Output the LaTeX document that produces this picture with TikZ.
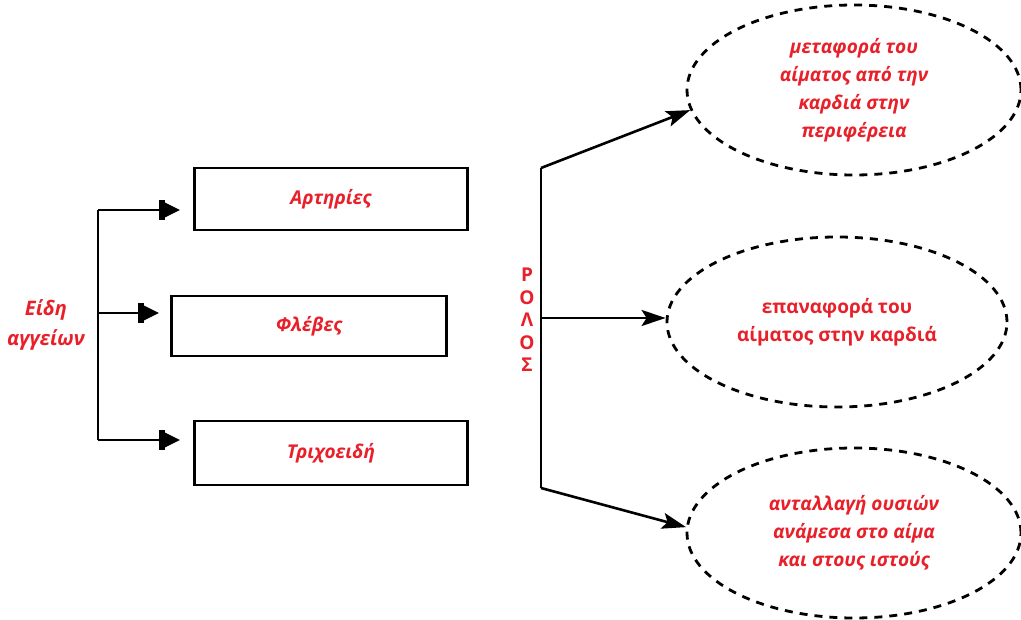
\documentclass[tikz,border=0pt]{standalone}
\usepackage{fontspec}
\setmainfont{Open Sans}
\usetikzlibrary{arrows.meta,shapes.geometric}
\definecolor{txtred}{HTML}{E8202A}
\tikzset{
  box/.style={draw=black,line width=2.6pt,minimum width=273pt,minimum height=62pt,inner sep=0pt,font=\fontsize{19}{22}\selectfont\bfseries\itshape,text=txtred},
  oval/.style={draw=black,line width=2.8pt,dash pattern=on 8pt off 7pt,ellipse,inner sep=0pt,minimum width=334pt,minimum height=170pt,text=txtred,align=center},
  conn/.style={line width=2.6pt},
  arr/.style={line width=2.6pt,-{Stealth[length=24pt,width=16pt,inset=5pt]}},
  arrb/.style={line width=2.6pt,-{Rectangle[length=6pt,width=20pt]Triangle[length=15pt,width=14pt]}},
}
\begin{document}
\begin{tikzpicture}[x=1pt,y=-1pt]
\useasboundingbox (0,0) rectangle (1021,620);
% left label
\node[text=txtred,font=\fontsize{20}{30}\selectfont\bfseries\itshape,align=center] (eidi) at (46,325) {Είδη\\αγγείων};
% boxes
\node[box] (art) at (331,199) {Αρτηρίες};
\node[box,minimum width=275pt,minimum height=60pt] (fle) at (309,326) {Φλέβες};
\node[box,minimum height=64pt] (tri) at (331,453) {Τριχοειδή};
% left tree
\coordinate (lt) at (98,210);
\coordinate (lm) at (98,313);
\coordinate (lb) at (98,440);
\coordinate (at) at (180,210);
\coordinate (am) at (159,313);
\coordinate (ab) at (180,440);
\draw[conn] (lt) -- (lb);
\draw[arrb] (lt) -- (at);
\draw[arrb] (lm) -- (am);
\draw[arrb] (lb) -- (ab);
% role
\node[text=txtred,font=\fontsize{19}{22.5}\selectfont\bfseries,align=center] (rolos) at (527,320) {Ρ\\Ο\\Λ\\Ο\\Σ};
\coordinate (rt) at (541,168);
\coordinate (rm) at (541,318);
\coordinate (rb) at (541,488);
\draw[conn] (rt) -- (rb);
% ellipses
\node[oval,font=\fontsize{19}{28}\selectfont\bfseries\itshape] (e1) at (854,90) {μεταφορά του\\αίματος από την\\καρδιά στην\\περιφέρεια};
\node[oval,minimum width=340pt,font=\fontsize{19}{28}\selectfont\bfseries] (e2) at (837,322) {επαναφορά του\\αίματος στην καρδιά};
\node[oval,font=\fontsize{19}{28}\selectfont\bfseries\itshape] (e3) at (854,533) {ανταλλαγή ουσιών\\ανάμεσα στο αίμα\\και στους ιστούς};
\draw[arr] (rt) -- (e1.187);
\draw[arr] (rm) -- (rm -| e2.west);
\draw[arr] (rb) -- (e3.178);
\end{tikzpicture}
\end{document}
